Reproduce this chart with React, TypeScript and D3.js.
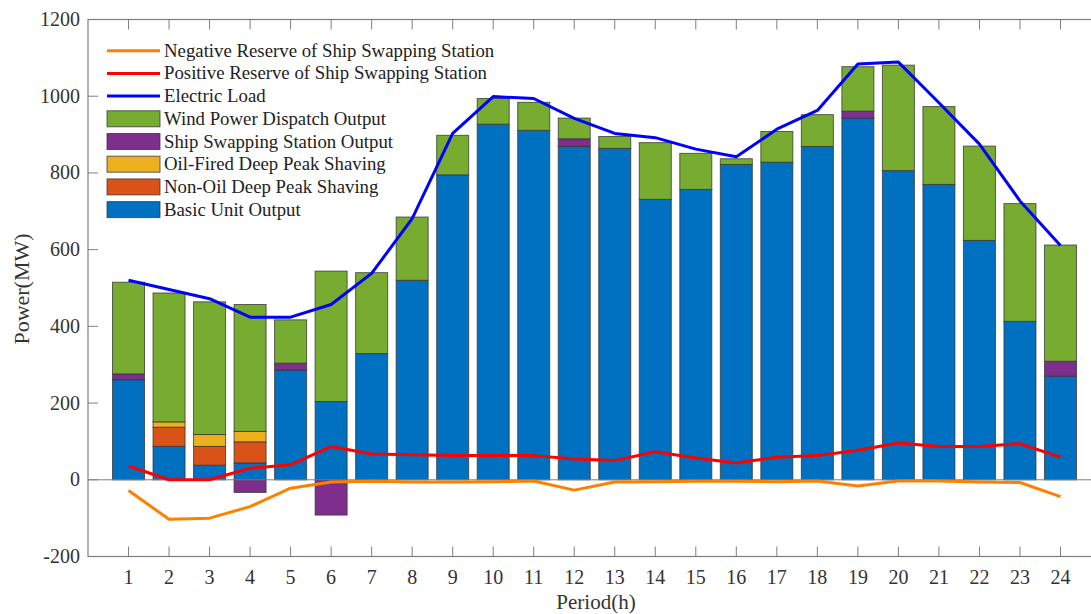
import React from "react";
import * as d3 from "d3";

// Hourly dispatch results (MW)
const periods = d3.range(1, 25);
const basicUnit = [261, 87, 38, 44, 286, 204, 329, 520, 795, 927, 911, 869, 864, 731, 757, 822, 828, 869, 943, 806, 770, 624, 413, 270];
const nonOilPeak = [0, 50, 49, 55, 0, 0, 0, 0, 0, 0, 0, 0, 0, 0, 0, 0, 0, 0, 0, 0, 0, 0, 0, 0];
const oilFiredPeak = [0, 14, 31, 27, 0, 0, 0, 0, 0, 0, 0, 0, 0, 0, 0, 0, 0, 0, 0, 0, 0, 0, 0, 0];
const shipStation = [15, 0, 0, -33, 18, -92, 0, 0, 0, 0, 0, 20, 0, 0, 0, 0, 0, 0, 18, 0, 0, 0, 0, 39];
const windDispatch = [239, 336, 346, 331, 113, 340, 211, 165, 103, 67, 73, 54, 31, 148, 94, 15, 80, 83, 116, 275, 203, 246, 307, 303];
const electricLoad = [520, 496, 472, 424, 424, 457, 538, 681, 903, 999, 994, 942, 903, 892, 862, 842, 914, 963, 1084, 1089, 983, 875, 727, 611];
const positiveReserve = [36, 0, 0, 30, 39, 87, 67, 65, 63, 63, 63, 54, 50, 73, 57, 44, 59, 63, 77, 96, 87, 87, 94, 59];
const negativeReserve = [-28, -103, -100, -70, -22, -6, -4, -6, -6, -5, -3, -27, -6, -5, -4, -4, -5, -3, -16, -3, -3, -6, -7, -44];
const yTicks = [-200, 0, 200, 400, 600, 800, 1000, 1200];

const barSeries = [
  { name: "Basic Unit Output", values: basicUnit, color: "#0070c0" },
  { name: "Non-Oil Deep Peak Shaving", values: nonOilPeak, color: "#d95319" },
  { name: "Oil-Fired Deep Peak Shaving", values: oilFiredPeak, color: "#edb120" },
  { name: "Ship Swapping Station Output", values: shipStation, color: "#7e2f8e" },
  { name: "Wind Power Dispatch Output", values: windDispatch, color: "#77ac30" },
];

const lineSeries = [
  { name: "Negative Reserve of Ship Swapping Station", values: negativeReserve, color: "#ff8000" },
  { name: "Positive Reserve of Ship Swapping Station", values: positiveReserve, color: "#ff0000" },
  { name: "Electric Load", values: electricLoad, color: "#0000ff" },
];

const W = 1091;
const H = 614;
const left = 88;
const right = 1101;
const top = 19.5;
const bottom = 556.5;
const FONT = "'Liberation Serif', 'Times New Roman', serif";
const AXIS = "#7f7f7f";
const TEXT = "#333333";

export default function App() {
  const x = d3.scaleLinear().domain([0, 25]).range([left, right]);
  const y = d3.scaleLinear().domain([-200, 1200]).range([bottom, top]);
  const step = x(1) - x(0);
  const barW = step * 0.79;

  // stacked segments: positives build upward, negatives downward
  const segments: { key: string; x: number; y0: number; y1: number; color: string }[] = [];
  periods.forEach((p, i) => {
    let pos = 0;
    let neg = 0;
    barSeries.forEach((s) => {
      const v = s.values[i];
      if (v > 0) {
        segments.push({ key: `${s.name}-${p}`, x: x(p), y0: pos, y1: pos + v, color: s.color });
        pos += v;
      } else if (v < 0) {
        segments.push({ key: `${s.name}-${p}`, x: x(p), y0: neg + v, y1: neg, color: s.color });
        neg += v;
      }
    });
  });

  const line = d3
    .line<number>()
    .x((_, i) => x(periods[i]))
    .y((v) => y(v));

  const legendX = 107;
  const legendY0 = 50.7;
  const legendDy = 22.7;
  const legendItems = [
    ...lineSeries.map((s) => ({ ...s, kind: "line" })),
    ...[...barSeries].reverse().map((s) => ({ ...s, kind: "bar" })),
  ];

  return (
    <svg
      width={W}
      height={H}
      style={{ position: "absolute", left: 0, top: 0, background: "#fff" }}
      fontFamily={FONT}
    >
      {/* bars */}
      {segments.map((s) => (
        <rect
          key={s.key}
          x={s.x - barW / 2}
          y={y(s.y1)}
          width={barW}
          height={y(s.y0) - y(s.y1)}
          fill={s.color}
          stroke="#333"
          strokeOpacity={0.75}
          strokeWidth={1}
        />
      ))}
      {/* zero baseline */}
      <line x1={left} x2={right} y1={y(0)} y2={y(0)} stroke={AXIS} strokeWidth={1} />

      {/* lines */}
      {lineSeries.map((s) => (
        <path key={s.name} d={line(s.values) || ""} fill="none" stroke={s.color} strokeWidth={3} strokeLinejoin="round" />
      ))}

      {/* axes frame */}
      <rect x={left} y={top} width={right - left} height={bottom - top} fill="none" stroke={AXIS} strokeWidth={1.2} />
      {periods.map((p) => (
        <g key={p}>
          <line x1={x(p)} x2={x(p)} y1={bottom} y2={bottom - 10} stroke={AXIS} />
          <line x1={x(p)} x2={x(p)} y1={top} y2={top + 10} stroke={AXIS} />
          <text x={x(p)} y={bottom + 27} textAnchor="middle" fontSize={20} fill={TEXT}>
            {p}
          </text>
        </g>
      ))}
      {yTicks.map((t) => (
        <g key={t}>
          <line x1={left} x2={left + 10} y1={y(t)} y2={y(t)} stroke={AXIS} />
          <line x1={right} x2={right - 10} y1={y(t)} y2={y(t)} stroke={AXIS} />
          <text x={left - 8} y={y(t) + 6.5} textAnchor="end" fontSize={20} fill={TEXT}>
            {t}
          </text>
        </g>
      ))}

      {/* axis titles */}
      <text x={596} y={609} textAnchor="middle" fontSize={21} fill={TEXT}>
        Period(h)
      </text>
      <text transform={`translate(29,289) rotate(-90)`} textAnchor="middle" fontSize={22} fill={TEXT}>
        Power(MW)
      </text>

      {/* legend */}
      {legendItems.map((it, i) => {
        const cy = legendY0 + i * legendDy;
        return (
          <g key={it.name}>
            {it.kind === "line" ? (
              <line x1={legendX} x2={legendX + 53} y1={cy} y2={cy} stroke={it.color} strokeWidth={3} />
            ) : (
              <rect x={legendX} y={cy - 8} width={53} height={16} fill={it.color} stroke="#333" strokeOpacity={0.75} />
            )}
            <text x={legendX + 57} y={cy + 6} fontSize={18.8} fill="#222">
              {it.name}
            </text>
          </g>
        );
      })}
    </svg>
  );
}
